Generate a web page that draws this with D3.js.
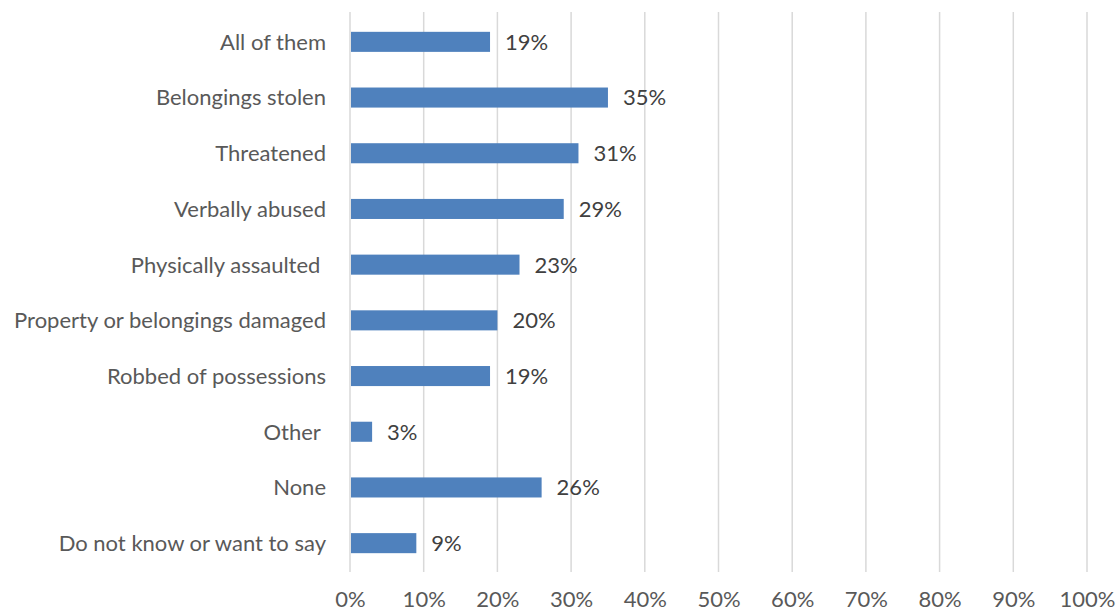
<!DOCTYPE html>
<html>
<head>
<meta charset="utf-8">
<script src="https://cdn.jsdelivr.net/npm/d3@7"></script>
<style>
  html, body { margin: 0; padding: 0; background: #fff; }
  svg { display: block; }
</style>
</head>
<body>
<svg id="chart" width="1117" height="612"></svg>
<script>
// Categories, top to bottom
const categories = [
  "All of them",
  "Belongings stolen",
  "Threatened",
  "Verbally abused",
  "Physically assaulted ",
  "Property or belongings damaged",
  "Robbed of possessions",
  "Other ",
  "None",
  "Do not know or want to say"
];
// Share of respondents, percent
const values = [19, 35, 31, 29, 23, 20, 19, 3, 26, 9];
// Axis ticks, percent
const ticks = [0, 10, 20, 30, 40, 50, 60, 70, 80, 90, 100];

const FONT = "Lato, 'Open Sans', sans-serif";
const FS = 22;
const svg = d3.select("#chart");
const margin = { left: 350, top: 14, bottom: 41 };
const H = 612;

const x = d3.scaleLinear().domain([0, 100]).range([margin.left, 1087]);
const y = d3.scaleBand().domain(categories)
  .range([margin.top, H - margin.bottom]).paddingInner(0.64).paddingOuter(0.32);

// vertical gridlines
svg.append("g").selectAll("line").data(ticks).join("line")
  .attr("x1", d => x(d)).attr("x2", d => x(d))
  .attr("y1", 12).attr("y2", 572)
  .attr("stroke", "#d9d9d9").attr("stroke-width", 1.5);

// bars
svg.append("g").selectAll("rect").data(values).join("rect")
  .attr("x", x(0) + 1)
  .attr("y", (d, i) => y(categories[i]))
  .attr("width", d => x(d) - x(0) - 1)
  .attr("height", y.bandwidth())
  .attr("fill", "#4f81bd");

// value labels
svg.append("g").selectAll("text").data(values).join("text")
  .attr("x", d => x(d) + 15)
  .attr("y", (d, i) => y(categories[i]) + y.bandwidth() / 2)
  .attr("dy", "0.36em")
  .attr("font-family", FONT).attr("font-size", FS)
  .attr("fill", "#404040")
  .text(d => d + "%");

// category axis labels
svg.append("g").selectAll("text").data(categories).join("text")
  .attr("x", 326)
  .attr("y", d => y(d) + y.bandwidth() / 2)
  .attr("dy", "0.36em")
  .attr("text-anchor", "end")
  .attr("xml:space", "preserve")
  .style("white-space", "pre")
  .attr("font-family", FONT).attr("font-size", FS)
  .attr("fill", "#595959")
  .text(d => d);

// x tick labels
const xAxis = d3.axisBottom(x).tickValues(ticks).tickFormat(d => d + "%").tickSize(0).tickPadding(0);
const gx = svg.append("g").attr("transform", "translate(0,607)").call(xAxis);
gx.select(".domain").remove();
gx.selectAll("text")
  .attr("font-family", FONT).attr("font-size", FS)
  .attr("fill", "#595959")
  .attr("dy", 0).attr("y", 0);
</script>
</body>
</html>
